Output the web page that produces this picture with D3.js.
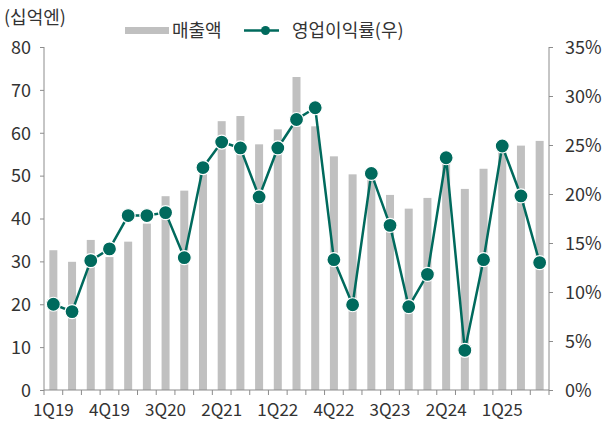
<!DOCTYPE html>
<html>
<head>
<meta charset="utf-8">
<script src="https://cdn.jsdelivr.net/npm/d3@7"></script>
<style>
body { margin: 0; background: #fff; }
text { font-family: "Noto Sans CJK KR", "Noto Sans", sans-serif; fill: #333; }
</style>
</head>
<body>
<script>
const quarters = ["1Q19","2Q19","3Q19","4Q19","1Q20","2Q20","3Q20","4Q20",
  "1Q21","2Q21","3Q21","4Q21","1Q22","2Q22","3Q22","4Q22",
  "1Q23","2Q23","3Q23","4Q23","1Q24","2Q24","3Q24","4Q24",
  "1Q25","2Q25","3Q25"];
const sales = [32.6, 29.9, 35.0, 31.0, 34.6, 38.8, 45.2, 46.5,
  52.0, 62.7, 63.9, 57.3, 60.8, 73.0, 61.5, 54.5,
  50.3, 50.0, 45.5, 42.3, 44.8, 53.0, 46.9, 51.6,
  56.0, 57.0, 58.1];
const margin = [8.75, 8.0, 13.2, 14.4, 17.8, 17.8, 18.1, 13.5,
  22.7, 25.3, 24.7, 19.7, 24.7, 27.6, 28.8, 13.3,
  8.7, 22.1, 16.8, 8.5, 11.8, 23.7, 4.05, 13.3,
  24.9, 19.8, 13.0];
const leftTicks = [0, 10, 20, 30, 40, 50, 60, 70, 80];
const rightTicks = [0, 5, 10, 15, 20, 25, 30, 35];
const labelEvery = 3;

const width = 604, height = 421;
const plot = {left: 44, right: 549, top: 47, bottom: 390};
const barColor = "#c0c0c0", lineColor = "#006a5d", axisColor = "#8c8c8c";

let svg = d3.select("body").append("svg")
  .attr("width", width)
  .attr("height", height);

let x = d3.scaleBand()
  .domain(quarters)
  .range([plot.left, plot.right])
  .paddingInner(0.58)
  .paddingOuter(0.29);

let xBand = d3.scaleBand()
  .domain(quarters)
  .range([plot.left, plot.right]);

let yL = d3.scaleLinear().domain([0, 80]).range([plot.bottom, plot.top]);
let yR = d3.scaleLinear().domain([0, 35]).range([plot.bottom, plot.top]);

// bars
svg.append("g").selectAll("rect")
  .data(sales)
  .join("rect")
  .attr("x", (d, i) => xBand(quarters[i]) + xBand.bandwidth() / 2 - 4)
  .attr("width", 8)
  .attr("y", d => yL(d))
  .attr("height", d => yL(0) - yL(d))
  .attr("fill", barColor);

// left axis
let leftAxis = svg.append("g")
  .attr("transform", "translate(" + plot.left + ",0)")
  .call(d3.axisLeft(yL).tickValues(leftTicks).tickSize(4).tickPadding(9));
leftAxis.selectAll("text").attr("font-size", 18).attr("dy", "0.35em");

// right axis
let rightAxis = svg.append("g")
  .attr("transform", "translate(" + plot.right + ",0)")
  .call(d3.axisRight(yR).tickValues(rightTicks).tickSize(4)
    .tickPadding(12).tickFormat(d => d + "%"));
rightAxis.selectAll("text").attr("font-size", 18).attr("dy", "0.35em");

// bottom axis: ticks at band edges, labels every 3 quarters
let bottom = svg.append("g");
bottom.append("line")
  .attr("x1", plot.left).attr("x2", plot.right)
  .attr("y1", plot.bottom).attr("y2", plot.bottom)
  .attr("stroke", axisColor);
let edges = quarters.map(q => xBand(q)).concat([plot.right]);
bottom.selectAll("line.tk")
  .data(edges)
  .join("line")
  .attr("class", "tk")
  .attr("x1", d => d).attr("x2", d => d)
  .attr("y1", plot.bottom).attr("y2", plot.bottom + 5)
  .attr("stroke", axisColor);
bottom.selectAll("text")
  .data(quarters.filter((q, i) => i % labelEvery === 0))
  .join("text")
  .attr("x", d => xBand(d) + xBand.bandwidth() / 2)
  .attr("y", 416)
  .attr("text-anchor", "middle")
  .attr("font-size", 17)
  .text(d => d);

svg.selectAll(".domain, .tick line").attr("stroke", axisColor);
leftAxis.select(".domain").attr("d", "M0," + plot.top + "V" + plot.bottom);
rightAxis.select(".domain").attr("d", "M0," + plot.top + "V" + plot.bottom);

// line
let line = d3.line()
  .x((d, i) => xBand(quarters[i]) + xBand.bandwidth() / 2)
  .y(d => yR(d));
svg.append("path")
  .datum(margin)
  .attr("d", line)
  .attr("fill", "none")
  .attr("stroke", lineColor)
  .attr("stroke-width", 2.5);
svg.append("g").selectAll("circle")
  .data(margin)
  .join("circle")
  .attr("cx", (d, i) => xBand(quarters[i]) + xBand.bandwidth() / 2)
  .attr("cy", d => yR(d))
  .attr("r", 7)
  .attr("fill", lineColor)
  .attr("stroke", "#fff")
  .attr("stroke-width", 1.2);

// unit label
svg.append("text")
  .attr("x", 4).attr("y", 24)
  .attr("font-size", 18)
  .text("(십억엔)");

// legend
let legend = svg.append("g");
legend.append("rect")
  .attr("x", 125).attr("y", 27).attr("width", 44).attr("height", 7)
  .attr("fill", barColor);
legend.append("text")
  .attr("x", 172).attr("y", 37).attr("font-size", 18)
  .text("매출액");
legend.append("line")
  .attr("x1", 244).attr("x2", 279).attr("y1", 30.5).attr("y2", 30.5)
  .attr("stroke", lineColor).attr("stroke-width", 2.5);
legend.append("circle")
  .attr("cx", 265.5).attr("cy", 30.5).attr("r", 4.5)
  .attr("fill", lineColor);
legend.append("text")
  .attr("x", 292).attr("y", 37).attr("font-size", 18)
  .text("영업이익률(우)");
</script>
</body>
</html>
